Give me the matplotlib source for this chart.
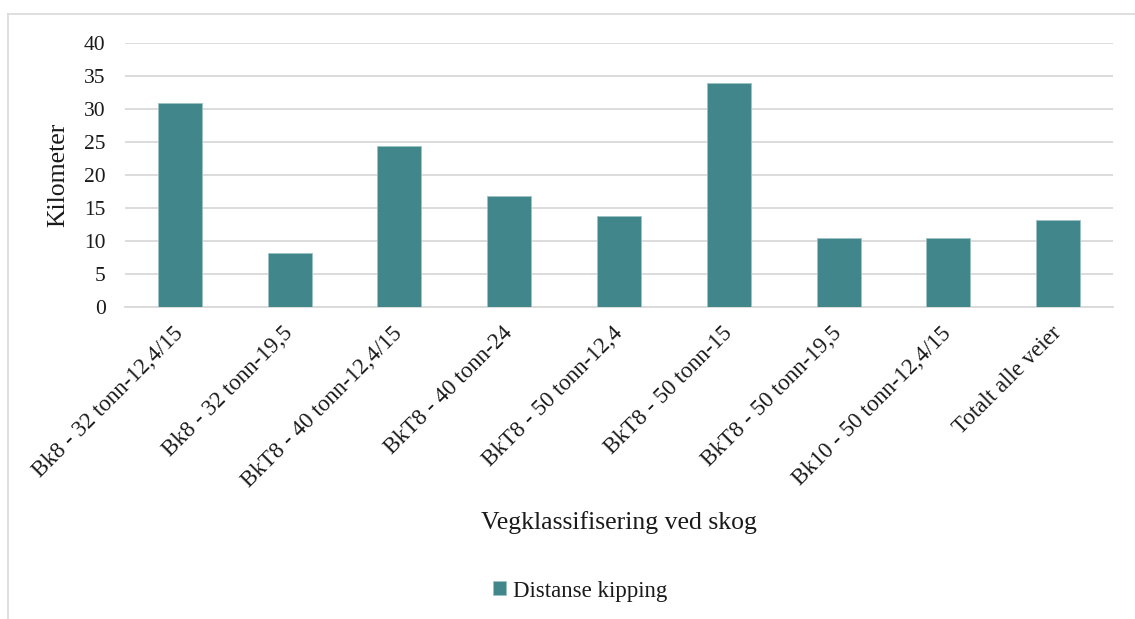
import matplotlib
matplotlib.use("Agg")
import matplotlib.pyplot as plt
from matplotlib.lines import Line2D

categories = [
    "Bk8 - 32 tonn-12,4/15",
    "Bk8 - 32 tonn-19,5",
    "BkT8 - 40 tonn-12,4/15",
    "BkT8 - 40 tonn-24",
    "BkT8 - 50 tonn-12,4",
    "BkT8 - 50 tonn-15",
    "BkT8 - 50 tonn-19,5",
    "Bk10 - 50 tonn-12,4/15",
    "Totalt alle veier",
]
distanse_kipping = [30.9, 8.1, 24.3, 16.8, 13.7, 34.0, 10.35, 10.4, 13.1]
y_ticks = [0, 5, 10, 15, 20, 25, 30, 35, 40]

bar_color = "#41868A"
grid_color = "#D9D9D9"
text_color = "#1a1a1a"

plt.rcParams["font.family"] = ["Liberation Serif", "DejaVu Serif"]

fig = plt.figure(figsize=(11.35, 6.19), dpi=100)
fig.patch.set_facecolor("white")

# thin frame around the chart area
fig.add_artist(Line2D([8 / 1135, 1.0], [1 - 14 / 619] * 2, transform=fig.transFigure,
                      color="#D9D9D9", lw=1.2))
fig.add_artist(Line2D([8 / 1135] * 2, [0.0, 1 - 14 / 619], transform=fig.transFigure,
                      color="#D9D9D9", lw=1.2))

ax = fig.add_axes([125 / 1135, 1 - 306.5 / 619, (1113 - 125) / 1135, (306.5 - 43) / 619])

x = list(range(len(categories)))
ax.bar(x, distanse_kipping, width=0.4, color=bar_color, edgecolor="#9CC3C5",
       linewidth=0.6, label="Distanse kipping", zorder=3)

ax.set_xlim(-0.5, len(categories) - 0.5)
ax.set_ylim(0, 40)
ax.set_yticks(y_ticks)
ax.set_yticklabels([str(v) for v in y_ticks], fontsize=15.5, color=text_color)
ax.yaxis.grid(True, color=grid_color, lw=1.3, zorder=0)
ax.set_axisbelow(True)

ax.set_xticks(x)
ax.set_xticklabels(categories, rotation=45, ha="right", va="center",
                   rotation_mode="anchor", fontsize=16.5, color=text_color)
ax.tick_params(axis="both", length=0)
ax.tick_params(axis="y", pad=14)
ax.tick_params(axis="x", pad=17)

for side in ["top", "right", "left"]:
    ax.spines[side].set_visible(False)
ax.spines["bottom"].set_color(grid_color)
ax.spines["bottom"].set_linewidth(1.3)

fig.text(58 / 1135, 1 - 175 / 619, "Kilometer", fontsize=18.5, color=text_color,
         rotation=90, ha="center", va="center")
fig.text(619 / 1135, 1 - 523 / 619, "Vegklassifisering ved skog", fontsize=18.5,
         color=text_color, ha="center", va="center")

handles, labels = ax.get_legend_handles_labels()
fig.legend(handles, labels, loc="center", bbox_to_anchor=(580 / 1135, 1 - 591 / 619),
           frameon=False, fontsize=16.5, handlelength=0.55, handleheight=0.55,
           handletextpad=0.3, labelcolor=text_color)

fig.savefig("out.png", dpi=100, facecolor="white")
